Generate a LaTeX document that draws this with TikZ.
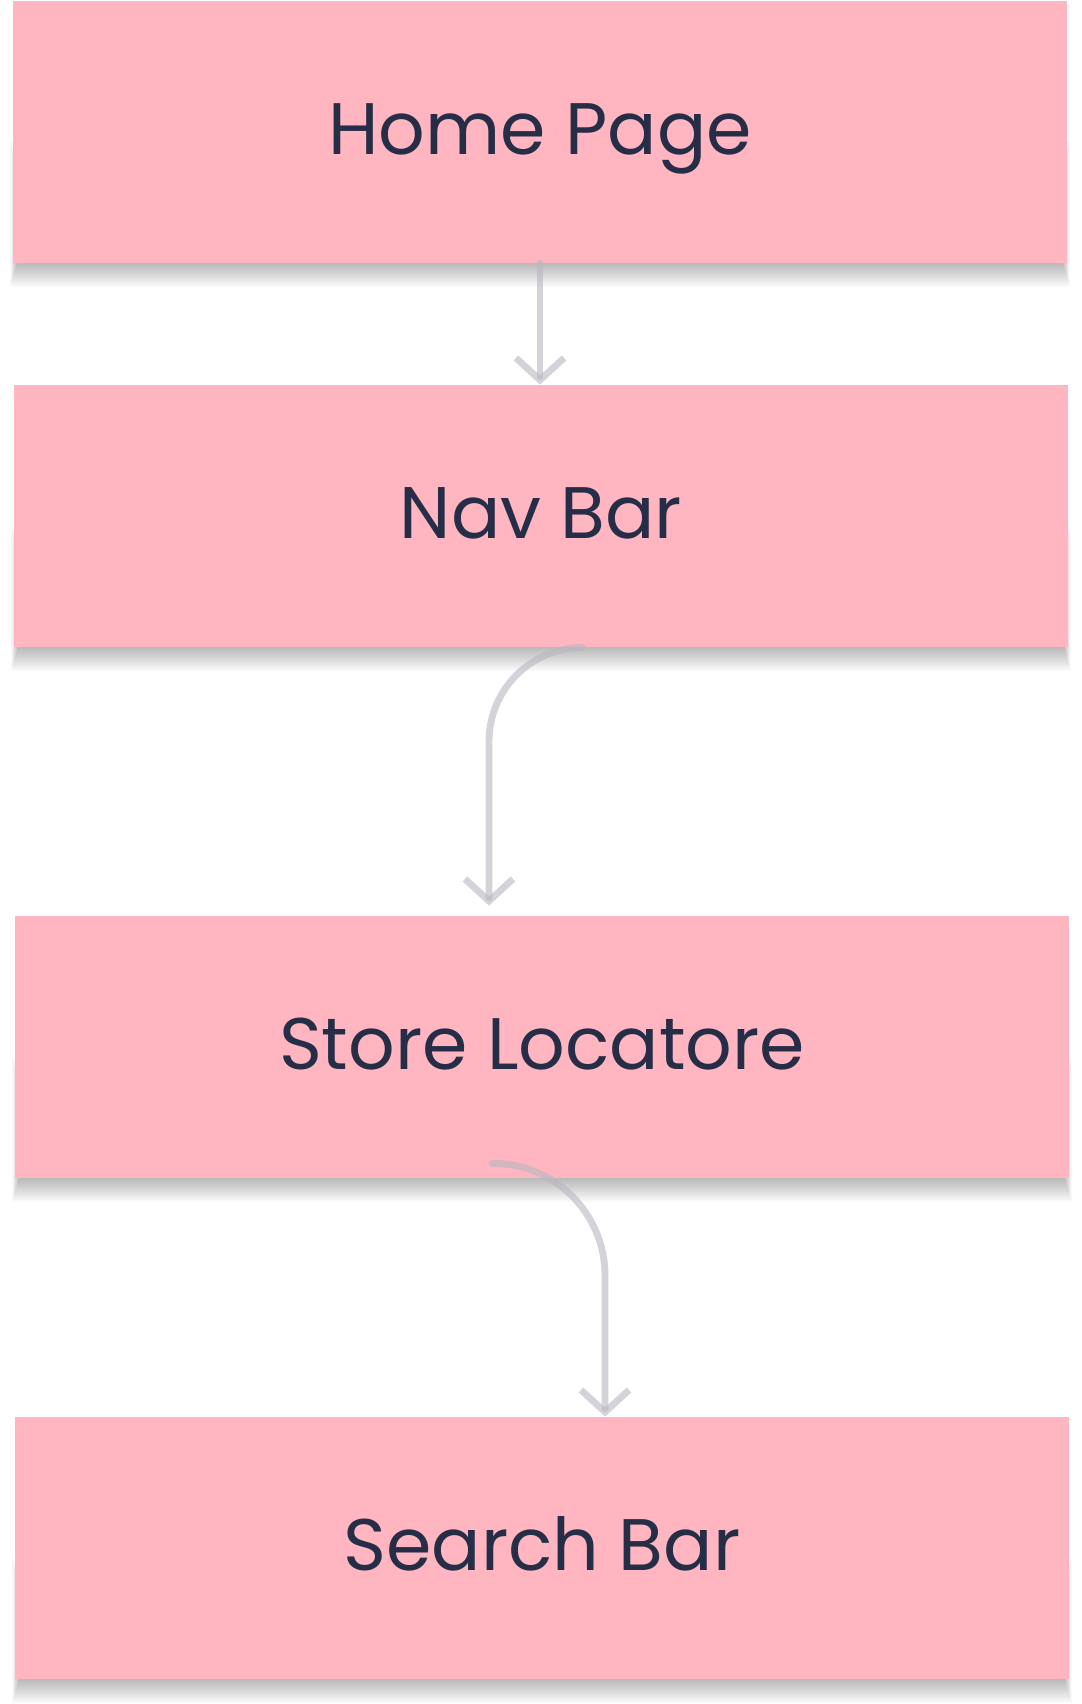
\documentclass[tikz,border=0pt]{standalone}
\usepackage{fontspec}
\setmainfont{Poppins}
\usetikzlibrary{positioning,arrows.meta,backgrounds}
\definecolor{boxpink}{HTML}{FFB6C0}
\definecolor{inkblue}{HTML}{262D47}
\definecolor{linkgray}{RGB}{182,183,193}
\tikzset{%
  pagebox/.style={rectangle, fill=boxpink, minimum width=527pt, minimum height=131pt,
    inner sep=0pt, text=inkblue, font=\fontsize{36.5}{40}\selectfont, text height=25.5pt, text depth=3pt},%
  softshade/.style={fill=black, fill opacity=0.024},%
  link/.style={draw=linkgray, draw opacity=0.6, line width=3.4pt, line cap=round, line join=round,
    -{Straight Barb[length=11pt,width=24pt,line width=3.4pt]}},%
}
\begin{document}
\begin{tikzpicture}[x=0.5pt,y=-0.5pt]%
\useasboundingbox (0,0) rectangle (1082,1704);%
%
\node[pagebox] (home) at (540,131.5) {Home Page};%
\node[pagebox] (nav) at (541,516) {Nav Bar};%
\node[pagebox] (store) at (542,1047) {Store Locatore};%
\node[pagebox] (search) at (542,1548) {Search Bar};%
%
% white page, then a soft shadow under each box
\begin{scope}[on background layer]%
\fill[white] (0,0) rectangle (1082,1704);%
\foreach \b in {home,nav,store,search}%
  \foreach \k in {0,...,12}%
    \fill[softshade] ([xshift={2.5pt-\k*0.3pt}, yshift={-\k*1pt}]\b.south west)
      rectangle ([xshift={-2.5pt+\k*0.3pt}, yshift={-95pt+\k*2pt}]\b.north east);%
\end{scope}%
%
\draw[link] (home.south) -- (home.south |- nav.north);%
\draw[link, rounded corners=47pt] ([xshift=21pt]nav.south) -| ([xshift=-26.5pt,yshift=5pt]store.north);%
\draw[link, rounded corners=56pt] ([xshift=-25pt,yshift=7.5pt]store.south) -| ([xshift=31.5pt]search.north);%
%
\end{tikzpicture}
\end{document}
